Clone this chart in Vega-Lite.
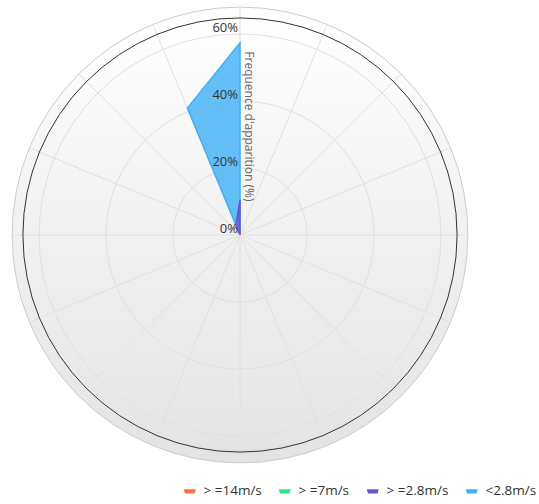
{
  "$schema": "https://vega.github.io/schema/vega-lite/v6.json",
  "width": 480,
  "height": 470,
  "autosize": {"type": "none"},
  "padding": {"left": 0, "top": 0, "right": 59, "bottom": 34},
  "background": "white",
  "config": {"view": {"stroke": null}, "font": "Open Sans"},
  "datasets": {
    "dirs": [
      {"dir": "N", "idx": 0, "angle": 0},
      {"dir": "NNE", "idx": 1, "angle": 22.5},
      {"dir": "NE", "idx": 2, "angle": 45},
      {"dir": "ENE", "idx": 3, "angle": 67.5},
      {"dir": "E", "idx": 4, "angle": 90},
      {"dir": "ESE", "idx": 5, "angle": 112.5},
      {"dir": "SE", "idx": 6, "angle": 135},
      {"dir": "SSE", "idx": 7, "angle": 157.5},
      {"dir": "S", "idx": 8, "angle": 180},
      {"dir": "SSW", "idx": 9, "angle": 202.5},
      {"dir": "SW", "idx": 10, "angle": 225},
      {"dir": "WSW", "idx": 11, "angle": 247.5},
      {"dir": "W", "idx": 12, "angle": 270},
      {"dir": "WNW", "idx": 13, "angle": 292.5},
      {"dir": "NW", "idx": 14, "angle": 315},
      {"dir": "NNW", "idx": 15, "angle": 337.5}
    ],
    "rings": [
      {"kind": "pane", "r": 68.04},
      {"kind": "grid", "r": 20},
      {"kind": "grid", "r": 40},
      {"kind": "grid", "r": 60},
      {"kind": "axis", "r": 64.8}
    ],
    "ticks": [
      {"label": "0%", "v": 0},
      {"label": "20%", "v": 20},
      {"label": "40%", "v": 40},
      {"label": "60%", "v": 60}
    ],
    "titles": [{"title": "Frequence d'apparition (%)", "v": 32.4}],
    "wind": [
      {"series": "<2.8m/s", "dir": "N", "value": 57.3},
      {"series": "<2.8m/s", "dir": "NNE", "value": 0},
      {"series": "<2.8m/s", "dir": "NE", "value": 0},
      {"series": "<2.8m/s", "dir": "ENE", "value": 0},
      {"series": "<2.8m/s", "dir": "E", "value": 0},
      {"series": "<2.8m/s", "dir": "ESE", "value": 0},
      {"series": "<2.8m/s", "dir": "SE", "value": 0},
      {"series": "<2.8m/s", "dir": "SSE", "value": 0},
      {"series": "<2.8m/s", "dir": "S", "value": 0},
      {"series": "<2.8m/s", "dir": "SSW", "value": 0},
      {"series": "<2.8m/s", "dir": "SW", "value": 0},
      {"series": "<2.8m/s", "dir": "WSW", "value": 0},
      {"series": "<2.8m/s", "dir": "W", "value": 0},
      {"series": "<2.8m/s", "dir": "WNW", "value": 0},
      {"series": "<2.8m/s", "dir": "NW", "value": 0},
      {"series": "<2.8m/s", "dir": "NNW", "value": 41},
      {"series": "> =2.8m/s", "dir": "N", "value": 10.5},
      {"series": "> =2.8m/s", "dir": "NNE", "value": 0},
      {"series": "> =2.8m/s", "dir": "NE", "value": 0},
      {"series": "> =2.8m/s", "dir": "ENE", "value": 0},
      {"series": "> =2.8m/s", "dir": "E", "value": 0},
      {"series": "> =2.8m/s", "dir": "ESE", "value": 0},
      {"series": "> =2.8m/s", "dir": "SE", "value": 0},
      {"series": "> =2.8m/s", "dir": "SSE", "value": 0},
      {"series": "> =2.8m/s", "dir": "S", "value": 0},
      {"series": "> =2.8m/s", "dir": "SSW", "value": 0},
      {"series": "> =2.8m/s", "dir": "SW", "value": 0},
      {"series": "> =2.8m/s", "dir": "WSW", "value": 0},
      {"series": "> =2.8m/s", "dir": "W", "value": 0},
      {"series": "> =2.8m/s", "dir": "WNW", "value": 0},
      {"series": "> =2.8m/s", "dir": "NW", "value": 0},
      {"series": "> =2.8m/s", "dir": "NNW", "value": 3.2},
      {"series": "> =7m/s", "dir": "N", "value": 0},
      {"series": "> =7m/s", "dir": "NNE", "value": 0},
      {"series": "> =7m/s", "dir": "NE", "value": 0},
      {"series": "> =7m/s", "dir": "ENE", "value": 0},
      {"series": "> =7m/s", "dir": "E", "value": 0},
      {"series": "> =7m/s", "dir": "ESE", "value": 0},
      {"series": "> =7m/s", "dir": "SE", "value": 0},
      {"series": "> =7m/s", "dir": "SSE", "value": 0},
      {"series": "> =7m/s", "dir": "S", "value": 0},
      {"series": "> =7m/s", "dir": "SSW", "value": 0},
      {"series": "> =7m/s", "dir": "SW", "value": 0},
      {"series": "> =7m/s", "dir": "WSW", "value": 0},
      {"series": "> =7m/s", "dir": "W", "value": 0},
      {"series": "> =7m/s", "dir": "WNW", "value": 0},
      {"series": "> =7m/s", "dir": "NW", "value": 0},
      {"series": "> =7m/s", "dir": "NNW", "value": 0},
      {"series": "> =14m/s", "dir": "N", "value": 0.4},
      {"series": "> =14m/s", "dir": "NNE", "value": 0},
      {"series": "> =14m/s", "dir": "NE", "value": 0},
      {"series": "> =14m/s", "dir": "ENE", "value": 0},
      {"series": "> =14m/s", "dir": "E", "value": 0},
      {"series": "> =14m/s", "dir": "ESE", "value": 0},
      {"series": "> =14m/s", "dir": "SE", "value": 0},
      {"series": "> =14m/s", "dir": "SSE", "value": 0},
      {"series": "> =14m/s", "dir": "S", "value": 0},
      {"series": "> =14m/s", "dir": "SSW", "value": 0},
      {"series": "> =14m/s", "dir": "SW", "value": 0},
      {"series": "> =14m/s", "dir": "WSW", "value": 0},
      {"series": "> =14m/s", "dir": "W", "value": 0},
      {"series": "> =14m/s", "dir": "WNW", "value": 0},
      {"series": "> =14m/s", "dir": "NW", "value": 0},
      {"series": "> =14m/s", "dir": "NNW", "value": 0}
    ]
  },
  "layer": [
    {
      "data": {"name": "rings"},
      "transform": [{"filter": "datum.kind === 'pane'"}],
      "mark": {
        "type": "point", "shape": "circle", "filled": true, "opacity": 1,
        "fill": {"gradient": "linear", "x1": 0, "y1": 0, "x2": 0, "y2": 1,
          "stops": [{"offset": 0, "color": "#ffffff"}, {"offset": 1, "color": "#e3e3e3"}]},
        "stroke": "#cccccc", "strokeWidth": 1
      },
      "encoding": {
        "x": {"datum": 0, "type": "quantitative", "scale": {"domain": [-71.6, 71.6], "nice": false, "zero": false}, "axis": null},
        "y": {"datum": 0, "type": "quantitative", "scale": {"domain": [-70.1, 70.1], "nice": false, "zero": false}, "axis": null},
        "size": {"field": "r", "type": "quantitative", "scale": {"type": "pow", "exponent": 2, "domain": [0, 60], "range": [0, 161604], "nice": false}, "legend": null}
      }
    },
    {
      "data": {"name": "rings"},
      "transform": [{"filter": "datum.kind === 'grid'"}],
      "mark": {"type": "point", "shape": "circle", "filled": false, "opacity": 1, "fill": "transparent", "stroke": "#e0e0e0", "strokeWidth": 1},
      "encoding": {
        "x": {"datum": 0, "type": "quantitative", "scale": {"domain": [-71.6, 71.6], "nice": false, "zero": false}, "axis": null},
        "y": {"datum": 0, "type": "quantitative", "scale": {"domain": [-70.1, 70.1], "nice": false, "zero": false}, "axis": null},
        "size": {"field": "r", "type": "quantitative", "scale": {"type": "pow", "exponent": 2, "domain": [0, 60], "range": [0, 161604], "nice": false}, "legend": null}
      }
    },
    {
      "data": {"name": "dirs"},
      "transform": [
        {"calculate": "0", "as": "cx"},
        {"calculate": "68.04*sin(datum.angle*PI/180)", "as": "sx"},
        {"calculate": "68.04*cos(datum.angle*PI/180)", "as": "sy"}
      ],
      "mark": {"type": "rule", "stroke": "#e0e0e0", "strokeWidth": 1},
      "encoding": {
        "x": {"field": "cx", "type": "quantitative", "scale": {"domain": [-71.6, 71.6], "nice": false, "zero": false}, "axis": null},
        "y": {"field": "cx", "type": "quantitative", "scale": {"domain": [-70.1, 70.1], "nice": false, "zero": false}, "axis": null},
        "x2": {"field": "sx"},
        "y2": {"field": "sy"}
      }
    },
    {
      "data": {"name": "rings"},
      "transform": [{"filter": "datum.kind === 'axis'"}],
      "mark": {"type": "point", "shape": "circle", "filled": false, "opacity": 1, "fill": "transparent", "stroke": "#333333", "strokeWidth": 1},
      "encoding": {
        "x": {"datum": 0, "type": "quantitative", "scale": {"domain": [-71.6, 71.6], "nice": false, "zero": false}, "axis": null},
        "y": {"datum": 0, "type": "quantitative", "scale": {"domain": [-70.1, 70.1], "nice": false, "zero": false}, "axis": null},
        "size": {"field": "r", "type": "quantitative", "scale": {"type": "pow", "exponent": 2, "domain": [0, 60], "range": [0, 161604], "nice": false}, "legend": null}
      }
    },
    {
      "data": {"name": "wind"},
      "transform": [
        {"lookup": "dir", "from": {"data": {"name": "dirs"}, "key": "dir", "fields": ["idx", "angle"]}},
        {"calculate": "datum.value*sin(datum.angle*PI/180)", "as": "px"},
        {"calculate": "datum.value*cos(datum.angle*PI/180)", "as": "py"}
      ],
      "mark": {"type": "line", "interpolate": "linear-closed", "fillOpacity": 0.8, "strokeWidth": 1.5},
      "encoding": {
        "x": {"field": "px", "type": "quantitative", "scale": {"domain": [-71.6, 71.6], "nice": false, "zero": false}, "axis": null},
        "y": {"field": "py", "type": "quantitative", "scale": {"domain": [-70.1, 70.1], "nice": false, "zero": false}, "axis": null},
        "order": {"field": "idx", "type": "quantitative"},
        "color": {
          "field": "series", "type": "nominal",
          "scale": {"domain": ["> =14m/s", "> =7m/s", "> =2.8m/s", "<2.8m/s"], "range": ["#fa7343", "#30e38d", "#6558cc", "#3fb0f6"]},
          "legend": {
            "orient": "none", "legendX": 183, "legendY": 484, "direction": "horizontal", "title": null,
            "symbolType": "M-1,-0.3L1,-0.3L0.8,0.4L-0.8,0.4Z", "symbolSize": 144, "symbolStrokeWidth": 0,
            "labelFontSize": 13.5, "labelColor": "#333333", "labelFont": "Open Sans", "labelOffset": 7, "columnPadding": 16
          }
        },
        "fill": {
          "field": "series", "type": "nominal",
          "scale": {"domain": ["> =14m/s", "> =7m/s", "> =2.8m/s", "<2.8m/s"], "range": ["#fa7343", "#30e38d", "#6558cc", "#3fb0f6"]},
          "legend": null
        }
      }
    },
    {
      "data": {"name": "ticks"},
      "mark": {"type": "text", "align": "right", "baseline": "alphabetic", "dx": -2, "dy": -2, "fontSize": 13, "fill": "#333333", "font": "Open Sans"},
      "encoding": {
        "x": {"datum": 0, "type": "quantitative", "scale": {"domain": [-71.6, 71.6], "nice": false, "zero": false}, "axis": null},
        "y": {"field": "v", "type": "quantitative", "scale": {"domain": [-70.1, 70.1], "nice": false, "zero": false}, "axis": null},
        "text": {"field": "label"}
      }
    },
    {
      "data": {"name": "titles"},
      "mark": {"type": "text", "align": "center", "baseline": "bottom", "angle": 90, "dy": -2, "fontSize": 12, "fill": "#666666", "font": "Open Sans"},
      "encoding": {
        "x": {"datum": 0, "type": "quantitative", "scale": {"domain": [-71.6, 71.6], "nice": false, "zero": false}, "axis": null},
        "y": {"field": "v", "type": "quantitative", "scale": {"domain": [-70.1, 70.1], "nice": false, "zero": false}, "axis": null},
        "text": {"field": "title"}
      }
    }
  ]
}
